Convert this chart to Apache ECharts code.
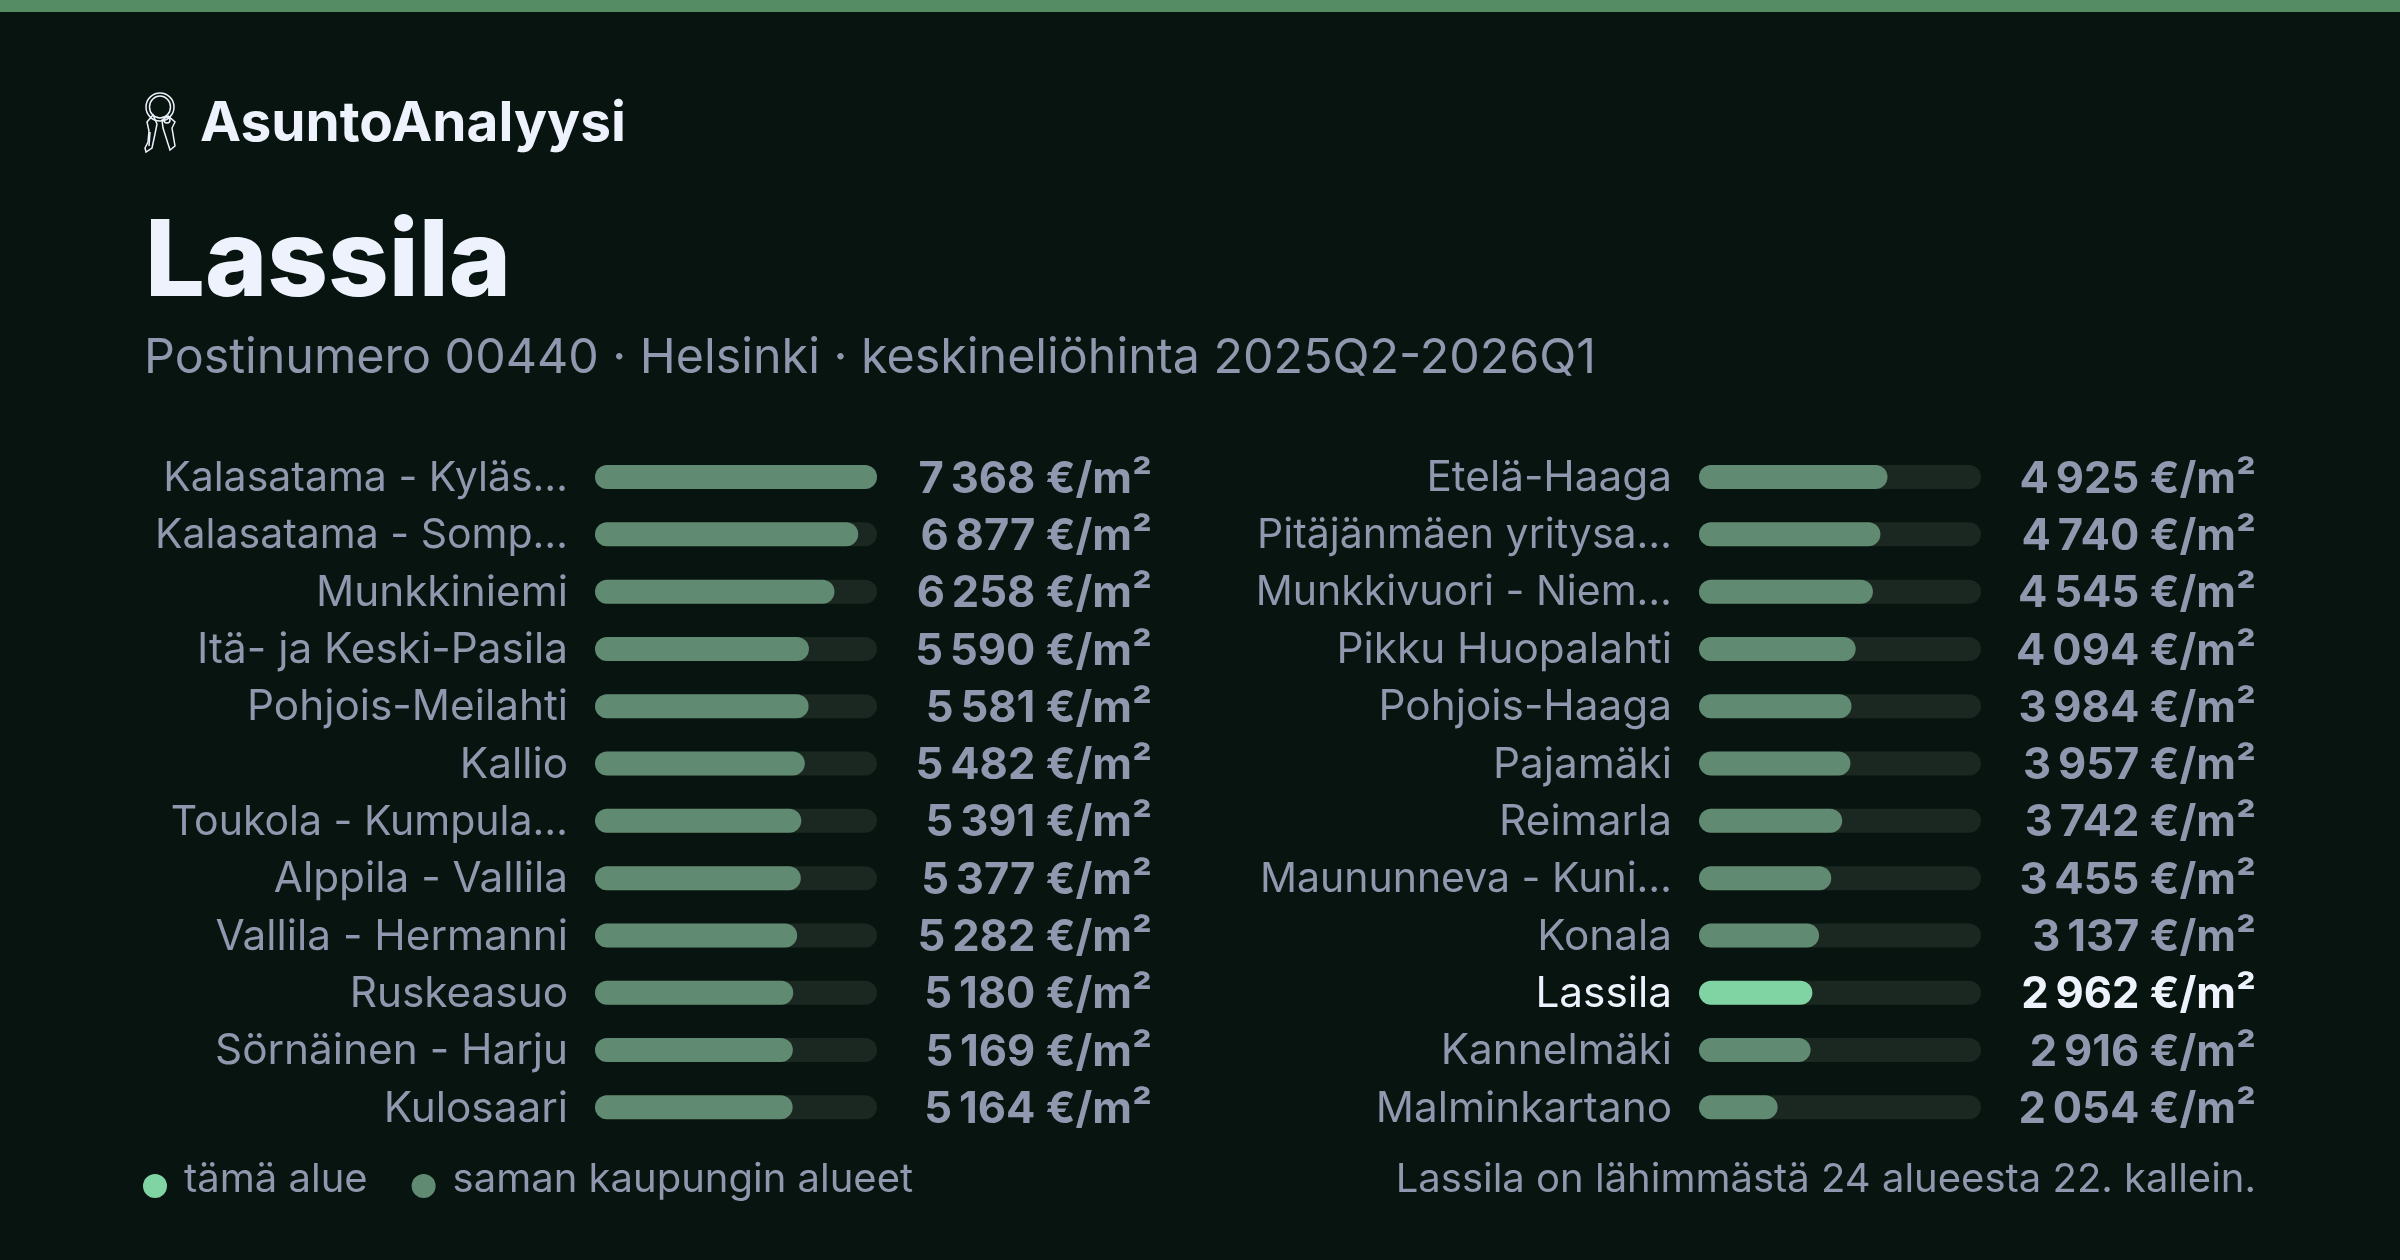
<!DOCTYPE html>
<html><head><meta charset="utf-8">
<style>html,body{margin:0;padding:0;background:#08140f}#c{width:2400px;height:1260px}</style>
<script src="https://cdn.jsdelivr.net/npm/echarts@6/dist/echarts.min.js"></script></head>
<body><div id="c"></div>
<script>
const leftAreas=["Kalasatama - Kyläs…","Kalasatama - Somp…","Munkkiniemi","Itä- ja Keski-Pasila","Pohjois-Meilahti","Kallio","Toukola - Kumpula…","Alppila - Vallila","Vallila - Hermanni","Ruskeasuo","Sörnäinen - Harju","Kulosaari"];
const leftValues=[7368,6877,6258,5590,5581,5482,5391,5377,5282,5180,5169,5164];
const rightAreas=["Etelä-Haaga","Pitäjänmäen yritysa…","Munkkivuori - Niem…","Pikku Huopalahti","Pohjois-Haaga","Pajamäki","Reimarla","Maununneva - Kuni…","Konala","Lassila","Kannelmäki","Malminkartano"];
const rightOthers=[4925,4740,4545,4094,3984,3957,3742,3455,3137,null,2916,2054];
const rightThis=[null,null,null,null,null,null,null,null,null,2962,null,null];
const rightValues=[4925,4740,4545,4094,3984,3957,3742,3455,3137,2962,2916,2054];
const SERIES_THIS="tämä alue", SERIES_CITY="saman kaupungin alueet";
const FONT="Inter", BG="#08140f", TXT="#8f98ae", HI="#eef2fc", BAR="#618a72", LIME="#80d4a3", TRACK="#1a2821";
const fmt=v=>String(v).replace(/(\d)(\d{3})$/,"$1\u2009$2")+" €/m²";
const VMAX=7368;
const chart=echarts.init(document.getElementById('c'),null,{renderer:'canvas',width:2400,height:1260});
const grids=[595,1699].map(l=>({left:l,width:282,top:448.4,height:687.6,containLabel:false}));
function yAxes(g,names,vals,hi){
  const tag=(s,i)=>(i===hi?'h':'')+(s.endsWith('…')?'t':'n');
  const st=(size,color)=>({fontFamily:FONT,fontSize:size,color,padding:[3,0,0,0]});
  const vst=color=>({fontFamily:FONT,fontSize:43.5,fontWeight:700,color,padding:[5,0,0,0]});
  const base={gridIndex:g,type:'category',inverse:true,axisLine:{show:false},axisTick:{show:false},splitLine:{show:false}};
  return [
   {...base,position:'left',data:names,axisLabel:{interval:0,margin:27,align:'right',
     formatter:(s,i)=>`{${tag(s,i)}|${s}}`,
     rich:{n:st(42.3,TXT),t:st(41,TXT),hn:st(42.3,HI),ht:st(41,HI)}}},
   {...base,position:'right',data:vals.map(fmt),axisLabel:{interval:0,margin:275,align:'right',
     formatter:(s,i)=>`{${i===hi?'h':'v'}|${s}}`,
     rich:{v:vst(TXT),h:vst(HI)}}}
  ];
}
const keyLine={fill:'none',stroke:HI,lineWidth:1.5};
chart.setOption({
  backgroundColor:BG,animation:false,
  grid:grids,
  xAxis:[0,1].map(g=>({gridIndex:g,type:'value',min:0,max:VMAX,show:false})),
  yAxis:[...yAxes(0,leftAreas,leftValues,-1),...yAxes(1,rightAreas,rightValues,rightAreas.indexOf("Lassila"))],
  title:[
    {text:"AsuntoAnalyysi",left:195,top:92,textStyle:{fontFamily:FONT,fontSize:55,fontWeight:700,color:HI}},
    {text:"Lassila",left:140,top:206,textStyle:{fontFamily:FONT,fontSize:106,fontWeight:800,color:HI}},
    {text:"Postinumero 00440 · Helsinki · keskineliöhinta 2025Q2-2026Q1",left:139,top:329,textStyle:{fontFamily:FONT,fontSize:48.4,fontWeight:400,color:TXT}},
    {text:"Lassila on lähimmästä 24 alueesta 22. kallein.",right:139,top:1155,textStyle:{fontFamily:FONT,fontSize:40,fontWeight:400,color:TXT}}
  ],
  legend:{left:143,top:1160,padding:0,icon:'circle',itemWidth:24,itemHeight:24,itemGap:44,selectedMode:false,
    data:[SERIES_THIS,SERIES_CITY],formatter:'{a|{name}}',
    textStyle:{rich:{a:{fontFamily:FONT,fontSize:40,color:TXT,padding:[0,0,12,12]}}}},
  series:[
    {name:SERIES_CITY,type:'bar',xAxisIndex:0,yAxisIndex:0,data:leftValues,barWidth:24,showBackground:true,backgroundStyle:{color:TRACK,borderRadius:12},itemStyle:{color:BAR,borderRadius:12}},
    {name:SERIES_CITY,type:'bar',xAxisIndex:1,yAxisIndex:2,data:rightOthers,barWidth:24,barGap:'-100%',showBackground:true,backgroundStyle:{color:TRACK,borderRadius:12},itemStyle:{color:BAR,borderRadius:12}},
    {name:SERIES_THIS,type:'bar',xAxisIndex:1,yAxisIndex:2,data:rightThis,barWidth:24,barGap:'-100%',itemStyle:{color:LIME,borderRadius:12}}
  ],
  graphic:[
    {type:'rect',x:0,y:0,shape:{width:2400,height:12},style:{fill:'#558c63'},silent:true},
    {type:'ellipse',x:160,y:107,shape:{rx:14,ry:14},style:keyLine,silent:true},
    {type:'ellipse',x:160,y:107,shape:{rx:10.5,ry:11},style:keyLine,silent:true},
    {type:'polygon',silent:true,style:keyLine,shape:{points:[[153,115],[147,122],[149,131],[148,142],[145,148],[146,152],[152,148],[155,134],[157,124]]}},
    {type:'polyline',silent:true,style:keyLine,shape:{points:[[150,132],[149,146]]}},
    {type:'polygon',silent:true,style:keyLine,shape:{points:[[168,116],[162,120],[163,128],[170,150],[175,146],[172,128],[175,122]]}},
    {type:'circle',x:167,y:120,shape:{r:3},style:keyLine,silent:true}
  ]
});
</script></body></html>
